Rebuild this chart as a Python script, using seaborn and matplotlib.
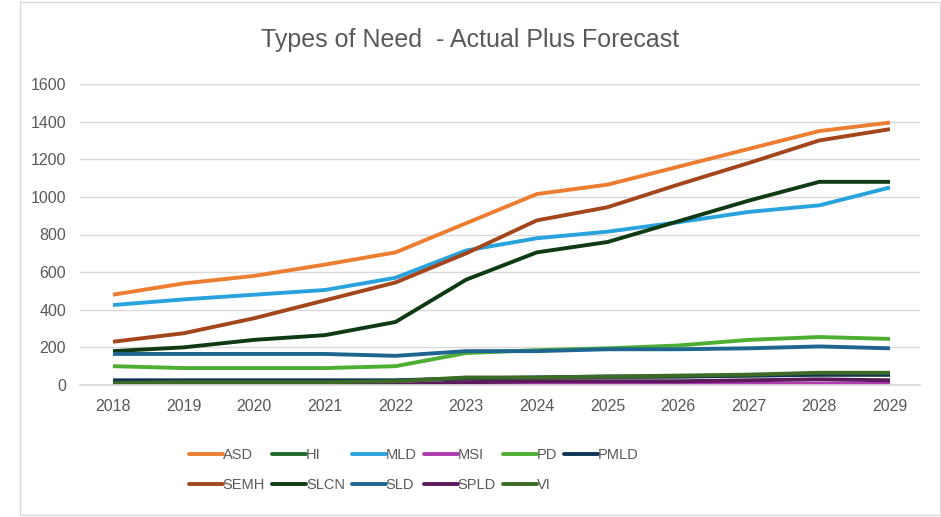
import numpy as np
import pandas as pd
import matplotlib
matplotlib.use("Agg")
import matplotlib.pyplot as plt
import seaborn as sns
from matplotlib.patches import Rectangle

years = [2018, 2019, 2020, 2021, 2022, 2023, 2024, 2025, 2026, 2027, 2028, 2029]
ASD  = [480, 540, 580, 640, 705, 860, 1015, 1065, 1160, 1255, 1350, 1395]
HI   = [20, 20, 20, 20, 22, 35, 38, 42, 45, 50, 55, 55]
MLD  = [425, 455, 480, 505, 570, 715, 780, 815, 865, 920, 955, 1050]
MSI  = [2, 2, 2, 3, 3, 5, 5, 6, 6, 6, 7, 6]
PD   = [100, 90, 90, 90, 100, 170, 185, 195, 210, 240, 255, 245]
PMLD = [25, 25, 25, 25, 25, 35, 40, 45, 45, 50, 55, 55]
SEMH = [230, 275, 355, 450, 545, 700, 875, 945, 1065, 1180, 1300, 1360]
SLCN = [180, 200, 240, 265, 335, 560, 705, 760, 870, 980, 1080, 1080]
SLD  = [165, 165, 165, 165, 155, 180, 180, 190, 190, 195, 205, 195]
SPLD = [0, 0, 0, 0, 0, 15, 20, 20, 20, 25, 30, 25]
VI   = [10, 15, 15, 15, 20, 40, 40, 45, 50, 55, 65, 65]

names = ["ASD", "HI", "MLD", "MSI", "PD", "PMLD", "SEMH", "SLCN", "SLD", "SPLD", "VI"]
series = [ASD, HI, MLD, MSI, PD, PMLD, SEMH, SLCN, SLD, SPLD, VI]
colors = ["#ED7D31", "#1E6B2A", "#29A3DD", "#B03AB0", "#4DAF32", "#0E3555",
          "#A3461B", "#0E3A14", "#1E6690", "#5C1A5C", "#3B6B24"]
cmap = dict(zip(names, colors))

df = pd.DataFrame({
    "Year": np.tile(years, len(names)),
    "Need": np.repeat(names, len(years)),
    "Count": np.concatenate([np.array(s) for s in series]),
})

sns.set_theme(style="white")
plt.rcParams['font.family'] = ['Liberation Sans Narrow', 'Liberation Sans', 'DejaVu Sans']

fig = plt.figure(figsize=(9.41, 5.17), dpi=100)
ax = fig.add_axes([80/941, 1-385/517, (920-80)/941, (385-84)/517])

sns.lineplot(data=df, x="Year", y="Count", hue="Need", hue_order=names,
             palette=cmap, linewidth=2.8, ax=ax,
             legend=False, solid_capstyle="butt")

ax.set_xlim(2018 - (113-80)/70.6, 2029 + (920-890)/70.6)
ax.set_ylim(0, 1600)
ax.set_yticks(range(0, 1601, 200))
ax.set_xticks(years)
ax.set_xticklabels([str(y) for y in years])
ax.set_xlabel("")
ax.set_ylabel("")
ax.grid(axis="y", color="#D9D9D9", linewidth=1)
ax.set_axisbelow(True)
for s in ["top", "right", "left"]:
    ax.spines[s].set_visible(False)
ax.spines["bottom"].set_color("#D9D9D9")
ax.tick_params(axis="both", length=0, labelsize=11.5, colors="#595959", pad=10)

fig.text(0.5, 1-40/517, "Types of Need  - Actual Plus Forecast", ha="center", va="center",
         fontsize=18, color="#595959")

# row-major ordering for a 6-column, 2-row legend (matplotlib fills column-wise)
leg_order = ["ASD", "SEMH", "HI", "SLCN", "MLD", "SLD", "MSI", "SPLD", "PD", "VI", "PMLD"]
handles = [plt.Line2D([0], [0], color=cmap[n], linewidth=2.8) for n in leg_order]
leg = fig.legend(handles, leg_order, loc="center left", bbox_to_anchor=(176/941, 1-470/517),
                 ncol=6, frameon=False, fontsize=10.5, handlelength=2.3,
                 handletextpad=0.0, columnspacing=0.5, labelspacing=1.1)
for t in leg.get_texts():
    t.set_color("#595959")

fig.patches.append(Rectangle((20/941, 2/517), 920/941, 513/517, transform=fig.transFigure,
                             fill=False, edgecolor="#D9D9D9", linewidth=1))

fig.savefig("out.png", dpi=100)
